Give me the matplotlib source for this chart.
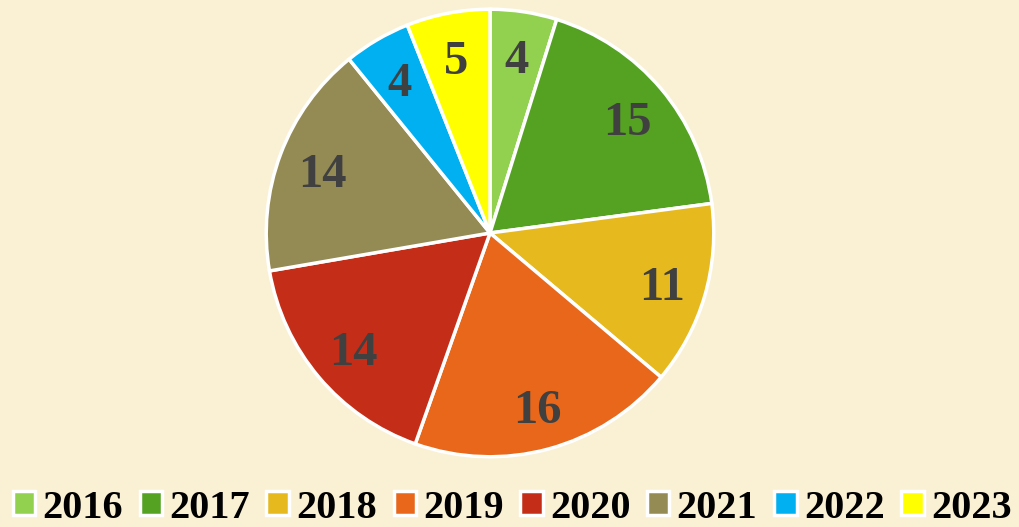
import matplotlib
matplotlib.use("Agg")
import matplotlib.pyplot as plt
from matplotlib.patches import Patch

years = ["2016", "2017", "2018", "2019", "2020", "2021", "2022", "2023"]
values = [4, 15, 11, 16, 14, 14, 4, 5]
colors = ["#92D050", "#55A223", "#E6B91E", "#E8671A", "#C42E18", "#948A54", "#00B0F0", "#FFFF00"]

bg = "#FAF0D3"
plt.rcParams['font.family'] = ['Liberation Serif', 'DejaVu Serif']

fig = plt.figure(figsize=(10.2, 5.27), dpi=100, facecolor=bg)
cx, cy, r = 490, 233, 226
ax = fig.add_axes([(cx - r) / 1020, (527 - cy - r) / 527, 2 * r / 1020, 2 * r / 527])
ax.set_facecolor(bg)
wedges, texts = ax.pie(values, colors=colors, startangle=90, counterclock=False,
                       labels=[str(v) for v in values], labeldistance=0.8,
                       wedgeprops=dict(edgecolor="white", linewidth=2.5),
                       textprops=dict(fontsize=35, fontweight="bold", color="#404040"))
for t in texts:
    t.set_ha("center")
    t.set_va("center_baseline")
ax.set_xlim(-1.01, 1.01)
ax.set_ylim(-1.01, 1.01)
ax.axis("off")

handles = [Patch(facecolor=c, edgecolor="white", linewidth=2.5) for c in colors]
fig.legend(handles, years, loc="center", bbox_to_anchor=(0.502, 1 - 508 / 527), ncol=8,
           frameon=False, prop=dict(size=29, weight="bold"),
           handlelength=0.55, handleheight=0.55, handletextpad=0.18, columnspacing=0.42,
           borderpad=0, borderaxespad=0)

fig.savefig("out.png", dpi=100, facecolor=bg)
